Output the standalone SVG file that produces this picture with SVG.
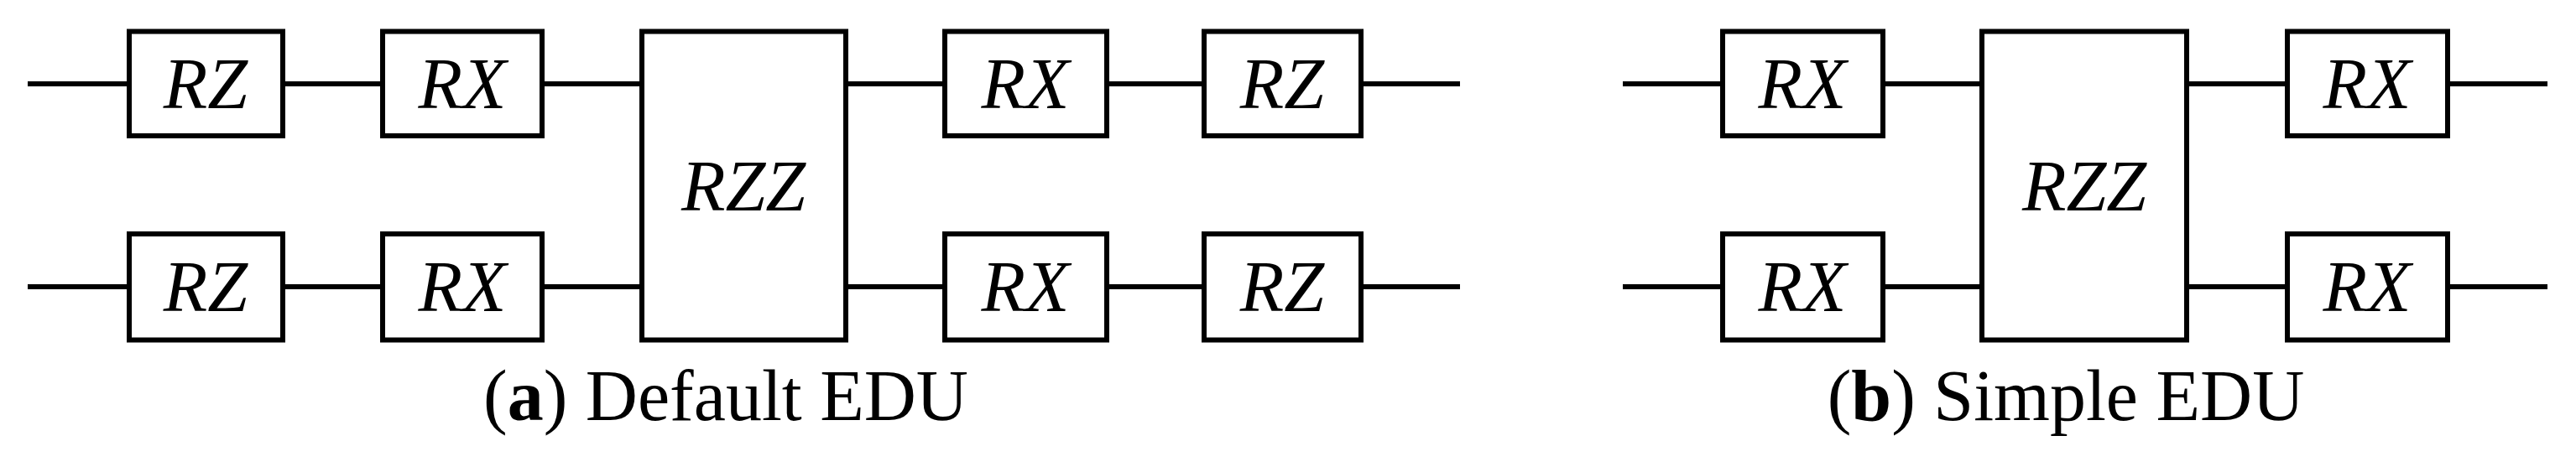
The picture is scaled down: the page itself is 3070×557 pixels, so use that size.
<svg xmlns="http://www.w3.org/2000/svg" width="3070" height="557" viewBox="0 0 3070 557">
<style>
.g{fill:#fff;stroke:#000;stroke-width:6}
.w{stroke:#000;stroke-width:6;fill:none}
.t{font-family:"Liberation Serif",serif;font-style:italic;font-size:86px;text-anchor:middle}
.c{font-family:"Liberation Serif",serif;font-size:86px;text-anchor:middle}
</style>
<rect width="3070" height="557" fill="#fff"/>
<g id="connectors">
<path class="w" d="M33 100H154M337 100H456M646 100H765M1008 100H1126M1319 100H1435M1622 100H1740"/>
<path class="w" d="M33 342H154M337 342H456M646 342H765M1008 342H1126M1319 342H1435M1622 342H1740"/>
<path class="w" d="M1934 100H2053M2244 100H2362M2606 100H2726M2917 100H3036"/>
<path class="w" d="M1934 342H2053M2244 342H2362M2606 342H2726M2917 342H3036"/>
</g>
<g id="a_rz1"><rect class="g" x="154" y="37.5" width="183" height="124.5"/><text class="t" x="245" y="128.5">RZ</text></g>
<g id="a_rx1"><rect class="g" x="456" y="37.5" width="190" height="124.5"/><text class="t" x="551" y="128.5">RX</text></g>
<g id="a_rz2"><rect class="g" x="154" y="279" width="183" height="126.5"/><text class="t" x="245" y="371">RZ</text></g>
<g id="a_rx2"><rect class="g" x="456" y="279" width="190" height="126.5"/><text class="t" x="551" y="371">RX</text></g>
<g id="a_rzz"><rect class="g" x="765" y="37.5" width="243" height="368"/><text class="t" x="886" y="250.5">RZZ</text></g>
<g id="a_rx3"><rect class="g" x="1126" y="37.5" width="193" height="124.5"/><text class="t" x="1222" y="128.5">RX</text></g>
<g id="a_rz3"><rect class="g" x="1435" y="37.5" width="187" height="124.5"/><text class="t" x="1528" y="128.5">RZ</text></g>
<g id="a_rx4"><rect class="g" x="1126" y="279" width="193" height="126.5"/><text class="t" x="1222" y="371">RX</text></g>
<g id="a_rz4"><rect class="g" x="1435" y="279" width="187" height="126.5"/><text class="t" x="1528" y="371">RZ</text></g>
<g id="b_rx1"><rect class="g" x="2053" y="37.5" width="191" height="124.5"/><text class="t" x="2148" y="128.5">RX</text></g>
<g id="b_rx2"><rect class="g" x="2053" y="279" width="191" height="126.5"/><text class="t" x="2148" y="371">RX</text></g>
<g id="b_rzz"><rect class="g" x="2362" y="37.5" width="244" height="368"/><text class="t" x="2484" y="250.5">RZZ</text></g>
<g id="b_rx3"><rect class="g" x="2726" y="37.5" width="191" height="124.5"/><text class="t" x="2821" y="128.5">RX</text></g>
<g id="b_rx4"><rect class="g" x="2726" y="279" width="191" height="126.5"/><text class="t" x="2821" y="371">RX</text></g>
<text class="c" x="865" y="501">(<tspan font-weight="bold">a</tspan>) Default EDU</text>
<text class="c" x="2462" y="501">(<tspan font-weight="bold">b</tspan>) Simple EDU</text>
</svg>
